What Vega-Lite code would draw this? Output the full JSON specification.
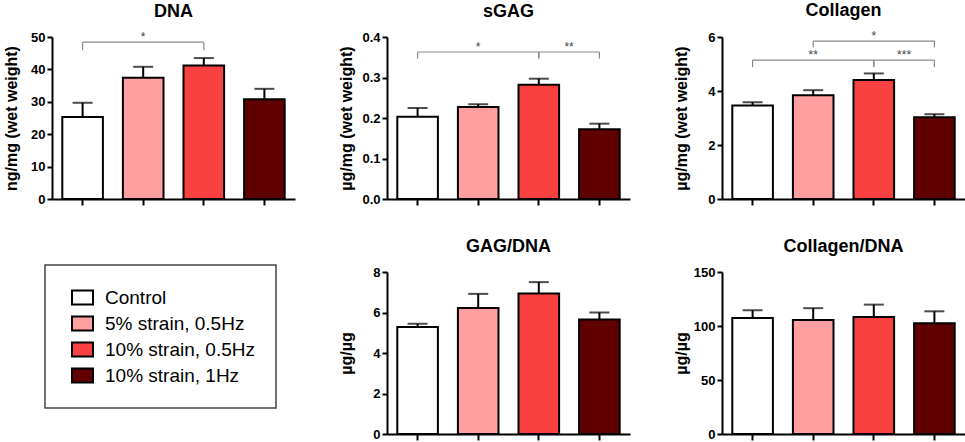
{
  "$schema": "https://vega.github.io/schema/vega-lite/v6.json",
  "padding": {"left": 3, "top": 2, "right": 2, "bottom": 2},
  "background": "white",
  "datasets": {
    "bars": [
      {"panel": "DNA", "group": "Control", "mean": 25.3, "upper": 29.7},
      {"panel": "DNA", "group": "5% strain, 0.5Hz", "mean": 37.4, "upper": 40.8},
      {"panel": "DNA", "group": "10% strain, 0.5Hz", "mean": 41.2, "upper": 43.5},
      {"panel": "DNA", "group": "10% strain, 1Hz", "mean": 30.8, "upper": 34.0},
      {"panel": "sGAG", "group": "Control", "mean": 0.203, "upper": 0.225},
      {"panel": "sGAG", "group": "5% strain, 0.5Hz", "mean": 0.227, "upper": 0.234},
      {"panel": "sGAG", "group": "10% strain, 0.5Hz", "mean": 0.282, "upper": 0.297},
      {"panel": "sGAG", "group": "10% strain, 1Hz", "mean": 0.172, "upper": 0.186},
      {"panel": "Collagen", "group": "Control", "mean": 3.46, "upper": 3.58},
      {"panel": "Collagen", "group": "5% strain, 0.5Hz", "mean": 3.84, "upper": 4.03},
      {"panel": "Collagen", "group": "10% strain, 0.5Hz", "mean": 4.41, "upper": 4.65},
      {"panel": "Collagen", "group": "10% strain, 1Hz", "mean": 3.03, "upper": 3.14},
      {"panel": "GAG/DNA", "group": "Control", "mean": 5.28, "upper": 5.44},
      {"panel": "GAG/DNA", "group": "5% strain, 0.5Hz", "mean": 6.22, "upper": 6.92},
      {"panel": "GAG/DNA", "group": "10% strain, 0.5Hz", "mean": 6.94, "upper": 7.5},
      {"panel": "GAG/DNA", "group": "10% strain, 1Hz", "mean": 5.66, "upper": 6.0},
      {"panel": "Collagen/DNA", "group": "Control", "mean": 107.5, "upper": 114.5},
      {"panel": "Collagen/DNA", "group": "5% strain, 0.5Hz", "mean": 105.6, "upper": 116.5},
      {"panel": "Collagen/DNA", "group": "10% strain, 0.5Hz", "mean": 108.4, "upper": 119.8},
      {"panel": "Collagen/DNA", "group": "10% strain, 1Hz", "mean": 102.6, "upper": 113.6}
    ],
    "brackets": [
      {"panel": "DNA", "from": "Control", "to": "10% strain, 0.5Hz", "mid": "5% strain, 0.5Hz", "y": 48.4, "drop": 45.9, "label": "*"},
      {"panel": "sGAG", "from": "Control", "to": "10% strain, 0.5Hz", "mid": "5% strain, 0.5Hz", "y": 0.363, "drop": 0.347, "label": "*"},
      {"panel": "sGAG", "from": "10% strain, 0.5Hz", "to": "10% strain, 1Hz", "mid": null, "y": 0.363, "drop": 0.347, "label": "**"},
      {"panel": "Collagen", "from": "5% strain, 0.5Hz", "to": "10% strain, 1Hz", "mid": "10% strain, 0.5Hz", "y": 5.85, "drop": 5.61, "label": "*"},
      {"panel": "Collagen", "from": "Control", "to": "10% strain, 0.5Hz", "mid": "5% strain, 0.5Hz", "y": 5.14, "drop": 4.89, "label": "**"},
      {"panel": "Collagen", "from": "10% strain, 0.5Hz", "to": "10% strain, 1Hz", "mid": null, "y": 5.14, "drop": 4.89, "label": "***"}
    ]
  },
  "spacing": 43,
  "hconcat": [
    {
      "title": "DNA",
      "width": 243,
      "height": 162,
      "data": {"name": "bars"},
      "transform": [{"filter": "datum.panel == 'DNA'"}],
      "layer": [
        {
          "mark": {"type": "bar", "stroke": "black", "strokeWidth": 2},
          "encoding": {
            "x": {"field": "group", "type": "nominal", "title": null, "scale": {"domain": ["Control", "5% strain, 0.5Hz", "10% strain, 0.5Hz", "10% strain, 1Hz"], "paddingInner": 0.33, "paddingOuter": 0.17}},
            "y": {"field": "mean", "type": "quantitative", "title": "ng/mg (wet weight)", "scale": {"domain": [0, 50], "nice": false}, "axis": {"values": [0, 10, 20, 30, 40, 50], "labelOverlap": false, "labelBound": false}},
            "color": {"field": "group", "type": "nominal", "title": null, "scale": {"domain": ["Control", "5% strain, 0.5Hz", "10% strain, 0.5Hz", "10% strain, 1Hz"], "range": ["#ffffff", "#ff9f9f", "#f94141", "#600000"]}}
          }
        },
        {
          "mark": {"type": "rule", "color": "black", "strokeWidth": 2},
          "encoding": {
            "x": {"field": "group", "type": "nominal", "title": null, "scale": {"domain": ["Control", "5% strain, 0.5Hz", "10% strain, 0.5Hz", "10% strain, 1Hz"]}},
            "y": {"field": "mean", "type": "quantitative", "axis": {"values": [0, 10, 20, 30, 40, 50], "labelOverlap": false}},
            "y2": {"field": "upper"}
          }
        },
        {
          "mark": {"type": "tick", "color": "black", "size": 20, "thickness": 2},
          "encoding": {
            "x": {"field": "group", "type": "nominal", "title": null, "scale": {"domain": ["Control", "5% strain, 0.5Hz", "10% strain, 0.5Hz", "10% strain, 1Hz"]}},
            "y": {"field": "upper", "type": "quantitative", "axis": {"values": [0, 10, 20, 30, 40, 50], "labelOverlap": false}}
          }
        },
        {
          "data": {"name": "brackets"},
          "transform": [{"filter": "datum.panel == 'DNA'"}],
          "mark": {"type": "rule", "color": "#888888", "strokeWidth": 1.2},
          "encoding": {
            "x": {"field": "from", "type": "nominal", "title": null, "bandPosition": 0.5, "scale": {"domain": ["Control", "5% strain, 0.5Hz", "10% strain, 0.5Hz", "10% strain, 1Hz"]}},
            "x2": {"field": "to", "bandPosition": 0.5},
            "y": {"field": "y", "type": "quantitative", "axis": {"values": [0, 10, 20, 30, 40, 50], "labelOverlap": false}}
          }
        },
        {
          "data": {"name": "brackets"},
          "transform": [{"filter": "datum.panel == 'DNA'"}],
          "mark": {"type": "rule", "color": "#888888", "strokeWidth": 1.2},
          "encoding": {
            "x": {"field": "from", "type": "nominal", "title": null, "scale": {"domain": ["Control", "5% strain, 0.5Hz", "10% strain, 0.5Hz", "10% strain, 1Hz"]}},
            "y": {"field": "y", "type": "quantitative", "axis": {"values": [0, 10, 20, 30, 40, 50], "labelOverlap": false}},
            "y2": {"field": "drop"}
          }
        },
        {
          "data": {"name": "brackets"},
          "transform": [{"filter": "datum.panel == 'DNA'"}],
          "mark": {"type": "rule", "color": "#888888", "strokeWidth": 1.2},
          "encoding": {
            "x": {"field": "to", "type": "nominal", "title": null, "scale": {"domain": ["Control", "5% strain, 0.5Hz", "10% strain, 0.5Hz", "10% strain, 1Hz"]}},
            "y": {"field": "y", "type": "quantitative", "axis": {"values": [0, 10, 20, 30, 40, 50], "labelOverlap": false}},
            "y2": {"field": "drop"}
          }
        },
        {
          "data": {"name": "brackets"},
          "transform": [{"filter": "datum.panel == 'DNA' && datum.mid != null"}],
          "mark": {"type": "text", "fontSize": 12, "fill": "#444444", "baseline": "alphabetic", "dy": -1},
          "encoding": {
            "x": {"field": "mid", "type": "nominal", "title": null, "scale": {"domain": ["Control", "5% strain, 0.5Hz", "10% strain, 0.5Hz", "10% strain, 1Hz"]}},
            "y": {"field": "y", "type": "quantitative", "axis": {"values": [0, 10, 20, 30, 40, 50], "labelOverlap": false}},
            "text": {"field": "label"}
          }
        }
      ]
    },
    {
      "spacing": 32,
      "vconcat": [
        {
          "title": "sGAG",
          "width": 243,
          "height": 162,
          "data": {"name": "bars"},
          "transform": [{"filter": "datum.panel == 'sGAG'"}],
          "layer": [
            {
              "mark": {"type": "bar", "stroke": "black", "strokeWidth": 2},
              "encoding": {
                "x": {"field": "group", "type": "nominal", "title": null, "scale": {"domain": ["Control", "5% strain, 0.5Hz", "10% strain, 0.5Hz", "10% strain, 1Hz"], "paddingInner": 0.33, "paddingOuter": 0.17}},
                "y": {"field": "mean", "type": "quantitative", "title": "µg/mg (wet weight)", "scale": {"domain": [0, 0.4], "nice": false}, "axis": {"values": [0, 0.1, 0.2, 0.3, 0.4], "format": ".1f"}},
                "color": {"field": "group", "type": "nominal", "title": null, "scale": {"domain": ["Control", "5% strain, 0.5Hz", "10% strain, 0.5Hz", "10% strain, 1Hz"], "range": ["#ffffff", "#ff9f9f", "#f94141", "#600000"]}}
              }
            },
            {
              "mark": {"type": "rule", "color": "black", "strokeWidth": 2},
              "encoding": {
                "x": {"field": "group", "type": "nominal", "title": null, "scale": {"domain": ["Control", "5% strain, 0.5Hz", "10% strain, 0.5Hz", "10% strain, 1Hz"]}},
                "y": {"field": "mean", "type": "quantitative"},
                "y2": {"field": "upper"}
              }
            },
            {
              "mark": {"type": "tick", "color": "black", "size": 20, "thickness": 2},
              "encoding": {
                "x": {"field": "group", "type": "nominal", "title": null, "scale": {"domain": ["Control", "5% strain, 0.5Hz", "10% strain, 0.5Hz", "10% strain, 1Hz"]}},
                "y": {"field": "upper", "type": "quantitative"}
              }
            },
            {
              "data": {"name": "brackets"},
              "transform": [{"filter": "datum.panel == 'sGAG'"}],
              "mark": {"type": "rule", "color": "#888888", "strokeWidth": 1.2},
              "encoding": {
                "x": {"field": "from", "type": "nominal", "title": null, "bandPosition": 0.5, "scale": {"domain": ["Control", "5% strain, 0.5Hz", "10% strain, 0.5Hz", "10% strain, 1Hz"]}},
                "x2": {"field": "to", "bandPosition": 0.5},
                "y": {"field": "y", "type": "quantitative"}
              }
            },
            {
              "data": {"name": "brackets"},
              "transform": [{"filter": "datum.panel == 'sGAG'"}],
              "mark": {"type": "rule", "color": "#888888", "strokeWidth": 1.2},
              "encoding": {
                "x": {"field": "from", "type": "nominal", "title": null, "scale": {"domain": ["Control", "5% strain, 0.5Hz", "10% strain, 0.5Hz", "10% strain, 1Hz"]}},
                "y": {"field": "y", "type": "quantitative"},
                "y2": {"field": "drop"}
              }
            },
            {
              "data": {"name": "brackets"},
              "transform": [{"filter": "datum.panel == 'sGAG'"}],
              "mark": {"type": "rule", "color": "#888888", "strokeWidth": 1.2},
              "encoding": {
                "x": {"field": "to", "type": "nominal", "title": null, "scale": {"domain": ["Control", "5% strain, 0.5Hz", "10% strain, 0.5Hz", "10% strain, 1Hz"]}},
                "y": {"field": "y", "type": "quantitative"},
                "y2": {"field": "drop"}
              }
            },
            {
              "data": {"name": "brackets"},
              "transform": [{"filter": "datum.panel == 'sGAG' && datum.mid != null"}],
              "mark": {"type": "text", "fontSize": 12, "fill": "#444444", "baseline": "alphabetic", "dy": -1},
              "encoding": {
                "x": {"field": "mid", "type": "nominal", "title": null, "scale": {"domain": ["Control", "5% strain, 0.5Hz", "10% strain, 0.5Hz", "10% strain, 1Hz"]}},
                "y": {"field": "y", "type": "quantitative"},
                "text": {"field": "label"}
              }
            },
            {
              "data": {"name": "brackets"},
              "transform": [{"filter": "datum.panel == 'sGAG' && datum.mid == null"}],
              "mark": {"type": "text", "fontSize": 12, "fill": "#444444", "baseline": "alphabetic", "dy": -1},
              "encoding": {
                "x": {"field": "from", "type": "nominal", "title": null, "bandPosition": 1.246, "scale": {"domain": ["Control", "5% strain, 0.5Hz", "10% strain, 0.5Hz", "10% strain, 1Hz"]}},
                "y": {"field": "y", "type": "quantitative"},
                "text": {"field": "label"}
              }
            }
          ]
        },
        {
          "title": "GAG/DNA",
          "width": 243,
          "height": 162,
          "data": {"name": "bars"},
          "transform": [{"filter": "datum.panel == 'GAG/DNA'"}],
          "layer": [
            {
              "mark": {"type": "bar", "stroke": "black", "strokeWidth": 2},
              "encoding": {
                "x": {"field": "group", "type": "nominal", "title": null, "scale": {"domain": ["Control", "5% strain, 0.5Hz", "10% strain, 0.5Hz", "10% strain, 1Hz"], "paddingInner": 0.33, "paddingOuter": 0.17}},
                "y": {"field": "mean", "type": "quantitative", "title": "µg/µg", "scale": {"domain": [0, 8], "nice": false}, "axis": {"values": [0, 2, 4, 6, 8]}},
                "color": {"field": "group", "type": "nominal", "title": null, "scale": {"domain": ["Control", "5% strain, 0.5Hz", "10% strain, 0.5Hz", "10% strain, 1Hz"], "range": ["#ffffff", "#ff9f9f", "#f94141", "#600000"]}}
              }
            },
            {
              "mark": {"type": "rule", "color": "black", "strokeWidth": 2},
              "encoding": {
                "x": {"field": "group", "type": "nominal", "title": null, "scale": {"domain": ["Control", "5% strain, 0.5Hz", "10% strain, 0.5Hz", "10% strain, 1Hz"]}},
                "y": {"field": "mean", "type": "quantitative"},
                "y2": {"field": "upper"}
              }
            },
            {
              "mark": {"type": "tick", "color": "black", "size": 20, "thickness": 2},
              "encoding": {
                "x": {"field": "group", "type": "nominal", "title": null, "scale": {"domain": ["Control", "5% strain, 0.5Hz", "10% strain, 0.5Hz", "10% strain, 1Hz"]}},
                "y": {"field": "upper", "type": "quantitative"}
              }
            }
          ]
        }
      ]
    },
    {
      "spacing": 32,
      "vconcat": [
        {
          "title": "Collagen",
          "width": 243,
          "height": 162,
          "data": {"name": "bars"},
          "transform": [{"filter": "datum.panel == 'Collagen'"}],
          "layer": [
            {
              "mark": {"type": "bar", "stroke": "black", "strokeWidth": 2},
              "encoding": {
                "x": {"field": "group", "type": "nominal", "title": null, "scale": {"domain": ["Control", "5% strain, 0.5Hz", "10% strain, 0.5Hz", "10% strain, 1Hz"], "paddingInner": 0.33, "paddingOuter": 0.17}},
                "y": {"field": "mean", "type": "quantitative", "title": "µg/mg (wet weight)", "scale": {"domain": [0, 6], "nice": false}, "axis": {"values": [0, 2, 4, 6]}},
                "color": {"field": "group", "type": "nominal", "title": null, "scale": {"domain": ["Control", "5% strain, 0.5Hz", "10% strain, 0.5Hz", "10% strain, 1Hz"], "range": ["#ffffff", "#ff9f9f", "#f94141", "#600000"]}}
              }
            },
            {
              "mark": {"type": "rule", "color": "black", "strokeWidth": 2},
              "encoding": {
                "x": {"field": "group", "type": "nominal", "title": null, "scale": {"domain": ["Control", "5% strain, 0.5Hz", "10% strain, 0.5Hz", "10% strain, 1Hz"]}},
                "y": {"field": "mean", "type": "quantitative"},
                "y2": {"field": "upper"}
              }
            },
            {
              "mark": {"type": "tick", "color": "black", "size": 20, "thickness": 2},
              "encoding": {
                "x": {"field": "group", "type": "nominal", "title": null, "scale": {"domain": ["Control", "5% strain, 0.5Hz", "10% strain, 0.5Hz", "10% strain, 1Hz"]}},
                "y": {"field": "upper", "type": "quantitative"}
              }
            },
            {
              "data": {"name": "brackets"},
              "transform": [{"filter": "datum.panel == 'Collagen'"}],
              "mark": {"type": "rule", "color": "#888888", "strokeWidth": 1.2},
              "encoding": {
                "x": {"field": "from", "type": "nominal", "title": null, "bandPosition": 0.5, "scale": {"domain": ["Control", "5% strain, 0.5Hz", "10% strain, 0.5Hz", "10% strain, 1Hz"]}},
                "x2": {"field": "to", "bandPosition": 0.5},
                "y": {"field": "y", "type": "quantitative"}
              }
            },
            {
              "data": {"name": "brackets"},
              "transform": [{"filter": "datum.panel == 'Collagen'"}],
              "mark": {"type": "rule", "color": "#888888", "strokeWidth": 1.2},
              "encoding": {
                "x": {"field": "from", "type": "nominal", "title": null, "scale": {"domain": ["Control", "5% strain, 0.5Hz", "10% strain, 0.5Hz", "10% strain, 1Hz"]}},
                "y": {"field": "y", "type": "quantitative"},
                "y2": {"field": "drop"}
              }
            },
            {
              "data": {"name": "brackets"},
              "transform": [{"filter": "datum.panel == 'Collagen'"}],
              "mark": {"type": "rule", "color": "#888888", "strokeWidth": 1.2},
              "encoding": {
                "x": {"field": "to", "type": "nominal", "title": null, "scale": {"domain": ["Control", "5% strain, 0.5Hz", "10% strain, 0.5Hz", "10% strain, 1Hz"]}},
                "y": {"field": "y", "type": "quantitative"},
                "y2": {"field": "drop"}
              }
            },
            {
              "data": {"name": "brackets"},
              "transform": [{"filter": "datum.panel == 'Collagen' && datum.mid != null"}],
              "mark": {"type": "text", "fontSize": 12, "fill": "#444444", "baseline": "alphabetic", "dy": -1},
              "encoding": {
                "x": {"field": "mid", "type": "nominal", "title": null, "scale": {"domain": ["Control", "5% strain, 0.5Hz", "10% strain, 0.5Hz", "10% strain, 1Hz"]}},
                "y": {"field": "y", "type": "quantitative"},
                "text": {"field": "label"}
              }
            },
            {
              "data": {"name": "brackets"},
              "transform": [{"filter": "datum.panel == 'Collagen' && datum.mid == null"}],
              "mark": {"type": "text", "fontSize": 12, "fill": "#444444", "baseline": "alphabetic", "dy": -1},
              "encoding": {
                "x": {"field": "from", "type": "nominal", "title": null, "bandPosition": 1.246, "scale": {"domain": ["Control", "5% strain, 0.5Hz", "10% strain, 0.5Hz", "10% strain, 1Hz"]}},
                "y": {"field": "y", "type": "quantitative"},
                "text": {"field": "label"}
              }
            }
          ]
        },
        {
          "title": "Collagen/DNA",
          "width": 243,
          "height": 162,
          "data": {"name": "bars"},
          "transform": [{"filter": "datum.panel == 'Collagen/DNA'"}],
          "layer": [
            {
              "mark": {"type": "bar", "stroke": "black", "strokeWidth": 2},
              "encoding": {
                "x": {"field": "group", "type": "nominal", "title": null, "scale": {"domain": ["Control", "5% strain, 0.5Hz", "10% strain, 0.5Hz", "10% strain, 1Hz"], "paddingInner": 0.33, "paddingOuter": 0.17}},
                "y": {"field": "mean", "type": "quantitative", "title": "µg/µg", "scale": {"domain": [0, 150], "nice": false}, "axis": {"values": [0, 50, 100, 150]}},
                "color": {"field": "group", "type": "nominal", "title": null, "scale": {"domain": ["Control", "5% strain, 0.5Hz", "10% strain, 0.5Hz", "10% strain, 1Hz"], "range": ["#ffffff", "#ff9f9f", "#f94141", "#600000"]}}
              }
            },
            {
              "mark": {"type": "rule", "color": "black", "strokeWidth": 2},
              "encoding": {
                "x": {"field": "group", "type": "nominal", "title": null, "scale": {"domain": ["Control", "5% strain, 0.5Hz", "10% strain, 0.5Hz", "10% strain, 1Hz"]}},
                "y": {"field": "mean", "type": "quantitative"},
                "y2": {"field": "upper"}
              }
            },
            {
              "mark": {"type": "tick", "color": "black", "size": 20, "thickness": 2},
              "encoding": {
                "x": {"field": "group", "type": "nominal", "title": null, "scale": {"domain": ["Control", "5% strain, 0.5Hz", "10% strain, 0.5Hz", "10% strain, 1Hz"]}},
                "y": {"field": "upper", "type": "quantitative"}
              }
            }
          ]
        }
      ]
    }
  ],
  "config": {
    "font": "Liberation Sans",
    "view": {"stroke": null},
    "title": {"fontSize": 18, "fontWeight": "bold", "anchor": "middle", "offset": 10, "color": "black"},
    "axis": {
      "grid": false,
      "domainColor": "black",
      "domainWidth": 2,
      "tickColor": "black",
      "tickWidth": 2,
      "tickSize": 5,
      "labelFontSize": 13,
      "labelFontWeight": "bold",
      "labelColor": "black",
      "titleFontSize": 16,
      "titleFontWeight": "bold",
      "titleColor": "black"
    },
    "axisY": {"minExtent": 27, "maxExtent": 27, "titlePadding": 6, "labelPadding": 2, "labelOverlap": false},
    "axisX": {"labels": false, "bandPosition": 0.5, "tickSize": 6},
    "legend": {
      "orient": "none",
      "legendX": -7,
      "legendY": 228,
      "strokeColor": "#444444",
      "strokeWidth": 1.5,
      "padding": 21,
      "labelFontSize": 19,
      "labelColor": "black",
      "labelOffset": 11,
      "symbolOffset": 5,
      "symbolType": "M-1,-0.667H1V0.667H-1Z",
      "symbolSize": 441,
      "symbolStrokeColor": "black",
      "symbolStrokeWidth": 2,
      "rowPadding": 3
    }
  }
}
